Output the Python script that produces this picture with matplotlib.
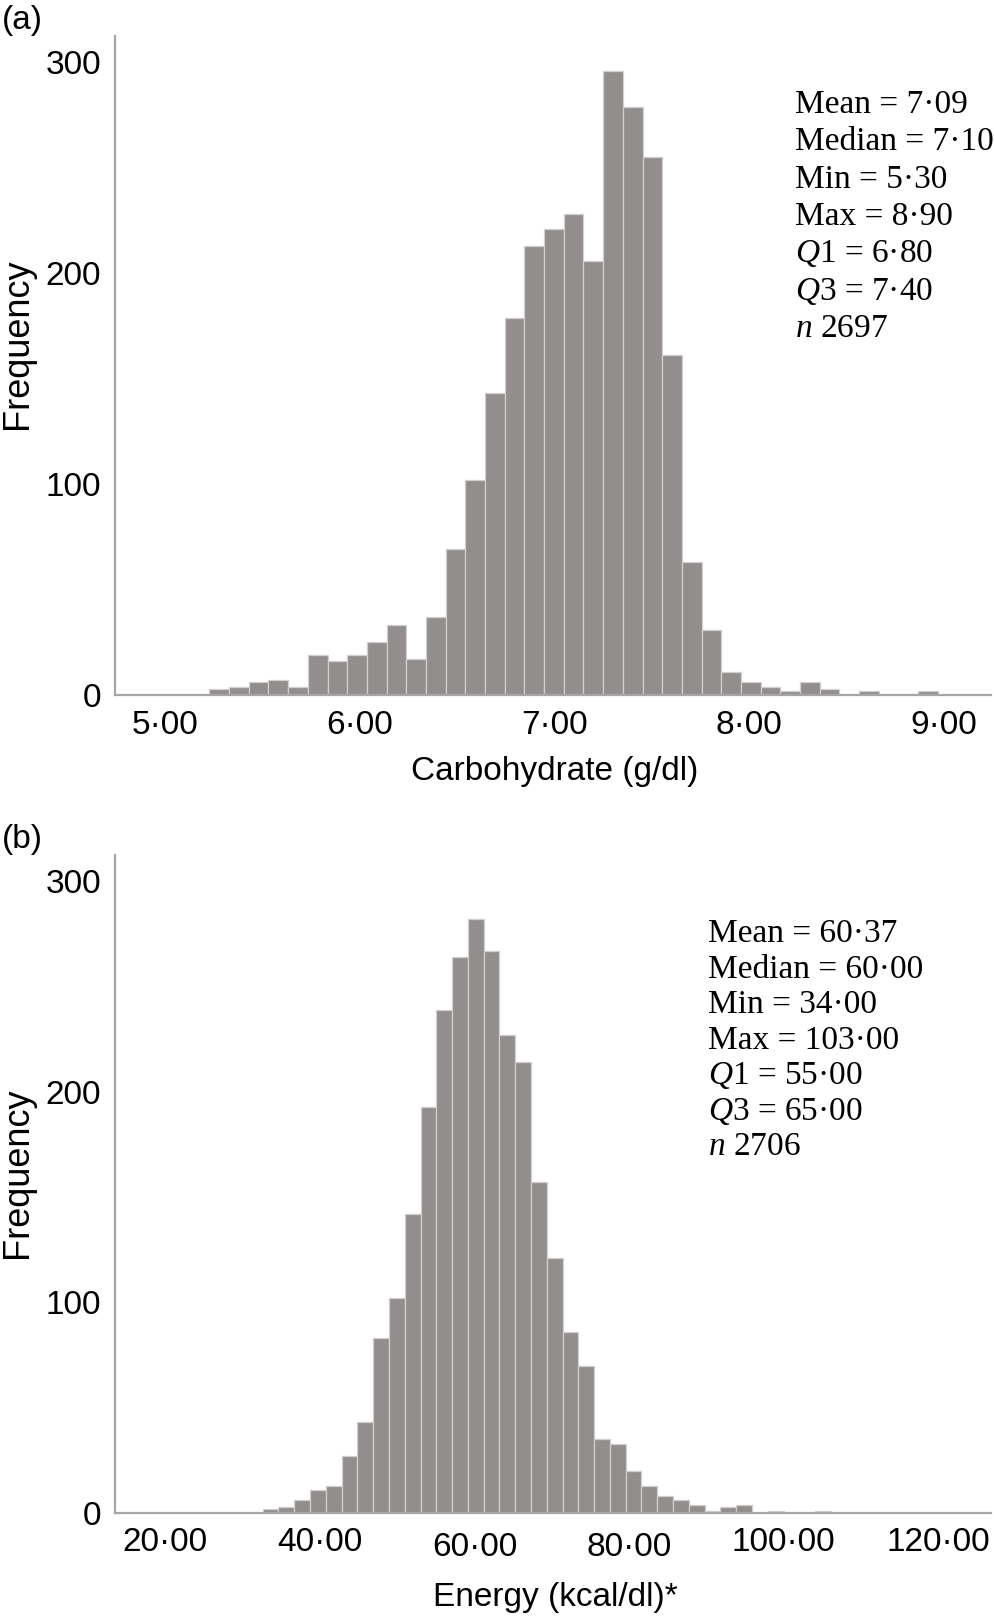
import matplotlib
matplotlib.use("Agg")
import matplotlib.pyplot as plt
import numpy as np
from matplotlib.ticker import FixedLocator, FuncFormatter

# ---------------- data ----------------
carb_counts = [3, 4, 6, 7, 4, 19, 16, 19, 25, 33, 17, 37, 69, 102, 143, 179, 213, 221,
               228, 206, 296, 279, 255, 161, 63, 31, 11, 6, 4, 2, 6, 3, 0, 2, 0, 0, 2]
carb_bin_start = 5.228
carb_bin_width = 0.1011
carb_ticks = [5, 6, 7, 8, 9]
carb_stats = ["Mean = 7·09", "Median = 7·10", "Min = 5·30", "Max = 8·90",
              "$Q$1 = 6·80", "$Q$3 = 7·40", "$n$ 2697"]

energy_counts = [2, 3, 6, 11, 13, 27, 43, 83, 102, 142, 193, 239, 264, 282, 267, 227, 214,
                 157, 121, 86, 70, 35, 33, 20, 13, 8, 6, 4, 1, 3, 4, 0, 1, 0, 0, 1]
energy_bin_start = 32.61
energy_bin_width = 2.042
energy_ticks = [20, 40, 60, 80, 100, 120]
energy_stats = ["Mean = 60·37", "Median = 60·00", "Min = 34·00", "Max = 103·00",
                "$Q$1 = 55·00", "$Q$3 = 65·00", "$n$ 2706"]

freq_ticks = [0, 100, 200, 300]

# ---------------- style ----------------
plt.rcParams["font.family"] = ["Liberation Sans", "DejaVu Sans"]
plt.rcParams["mathtext.fontset"] = "custom"
plt.rcParams["mathtext.it"] = "Liberation Serif:italic"
plt.rcParams["mathtext.rm"] = "Liberation Serif"

W, H = 995, 1617
fig = plt.figure(figsize=(W / 100, H / 100), dpi=100)

BAR = "#928e8e"
EDGE = "#d2cece"
SPINE = "#a6a6a6"
TICK_FS = 24
LAB_FS = 24
FREQ_FS = 26
STAT_FS = 24


def px_axes(l, t, r, b):
    return fig.add_axes([l / W, 1 - b / H, (r - l) / W, (b - t) / H])


def ftext(x, y, s, **kw):
    return fig.text(x / W, 1 - y / H, s, **kw)


def style_axes(ax, ticks, xlim):
    ax.set_xlim(*xlim)
    ax.set_ylim(0, 312.5)
    for s in ("top", "right"):
        ax.spines[s].set_visible(False)
    for s in ("left", "bottom"):
        ax.spines[s].set_color(SPINE)
        ax.spines[s].set_linewidth(1.6)
    ax.xaxis.set_major_locator(FixedLocator(ticks))
    ax.xaxis.set_major_formatter(FuncFormatter(lambda v, p: f"{v:.2f}".replace(".", "·")))
    ax.yaxis.set_major_locator(FixedLocator(freq_ticks))
    ax.yaxis.set_major_formatter(FuncFormatter(lambda v, p: f"{int(v)}"))
    ax.tick_params(axis="both", length=0, labelsize=TICK_FS, colors="black")
    ax.tick_params(axis="x", pad=11)
    ax.tick_params(axis="y", pad=10)
    ax.set_facecolor("white")


def draw_hist(ax, counts, start, width):
    edges = start + width * np.arange(len(counts))
    ax.bar(edges, counts, width=width, align="edge", color=BAR,
           edgecolor=EDGE, linewidth=0.9)


# ---------------- panel (a) ----------------
ax1 = px_axes(115, 36, 991, 695)
draw_hist(ax1, carb_counts, carb_bin_start, carb_bin_width)
style_axes(ax1, carb_ticks, (4.743, 9.242))

# ---------------- panel (b) ----------------
ax2 = px_axes(115, 855, 991, 1513)
draw_hist(ax2, energy_counts, energy_bin_start, energy_bin_width)
style_axes(ax2, energy_ticks, (13.50, 126.84))
ax2.tick_params(axis="x", pad=10)
for i, t in enumerate(ax2.xaxis.get_major_ticks()):
    if i in (2, 3):
        t.set_pad(14)

# labels
ftext(2, 21, "(a)", fontsize=LAB_FS, ha="left", va="center")
ftext(2, 839, "(b)", fontsize=LAB_FS, ha="left", va="center")
ftext(555, 771, "Carbohydrate (g/dl)", fontsize=LAB_FS, ha="center", va="center")
ftext(555, 1597, "Energy (kcal/dl)*", fontsize=LAB_FS, ha="center", va="center")
ftext(18, 344, "Frequency", fontsize=FREQ_FS, ha="center", va="center", rotation=90)
ftext(18, 1173, "Frequency", fontsize=FREQ_FS, ha="center", va="center", rotation=90)

# stats boxes
for i, s in enumerate(carb_stats):
    ftext(795, 101.7 + 11 + i * 37.4, s, fontsize=STAT_FS, ha="left", va="baseline",
          family=["Liberation Serif", "DejaVu Serif"])
for i, s in enumerate(energy_stats):
    ftext(708, 931 + 11 + i * 35.5, s, fontsize=STAT_FS, ha="left", va="baseline",
          family=["Liberation Serif", "DejaVu Serif"])

fig.savefig("out.png", dpi=100, facecolor="white")
